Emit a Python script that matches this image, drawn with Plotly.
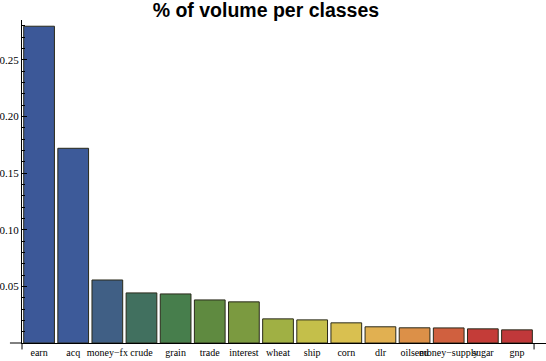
import plotly.graph_objects as go

categories = ["earn", "acq", "money\u2212fx", "crude", "grain", "trade", "interest", "wheat",
              "ship", "corn", "dlr", "oilseed", "money\u2212supply", "sugar", "gnp"]
values = [0.2795, 0.1718, 0.0556, 0.0442, 0.0433, 0.0380, 0.0363, 0.0213,
          0.0204, 0.0178, 0.0143, 0.0134, 0.0133, 0.0125, 0.0116]
colors = ["#3c5898", "#3d5a99", "#405f85", "#41705f", "#477e4c", "#5f8a40", "#7b9a40", "#a0b044",
          "#c4bf4a", "#d9c050", "#e1b051", "#dc9048", "#d0603f", "#c43c38", "#c0383a"]
ytick_vals = [0.05, 0.10, 0.15, 0.20, 0.25]

fig = go.Figure(go.Bar(
    x=list(range(len(categories))), y=values,
    marker=dict(color=colors, line=dict(color="#2a2a1a", width=1)),
    hoverinfo="skip",
))

serif = "Liberation Serif, Times New Roman, serif"
fig.update_layout(
    width=546, height=361,
    margin=dict(l=22, r=0, t=20, b=17.5, autoexpand=False),
    paper_bgcolor="white", plot_bgcolor="white",
    bargap=0.1, showlegend=False,
    title=dict(text="<b>% of volume per classes</b>", x=0.487, xanchor="center",
               y=0.973, yanchor="middle",
               font=dict(family="Liberation Sans, Arial, sans-serif", size=19.5, color="black")),
    xaxis=dict(range=[-0.5, 14.85], tickmode="array", tickvals=list(range(len(categories))),
               ticktext=categories, tickangle=0, ticks="", showgrid=False, zeroline=False,
               showline=True, linecolor="black", linewidth=1, automargin=False,
               tickfont=dict(family=serif, size=10, color="black")),
    yaxis=dict(range=[0, 0.285], tickvals=ytick_vals, tickformat=".2f",
               ticks="inside", ticklen=5, tickcolor="black", tickwidth=1,
               minor=dict(dtick=0.01, ticks="inside", ticklen=3, tickcolor="black", tickwidth=1),
               showgrid=False, zeroline=False, showline=True, linecolor="black", linewidth=1,
               automargin=False,
               tickfont=dict(family=serif, size=11, color="black")),
    shapes=[
        dict(type="line", xref="paper", yref="paper", x0=-0.023, x1=0, y0=0, y1=0,
             line=dict(color="black", width=1)),
        dict(type="line", xref="paper", yref="paper", x0=0, x1=0, y0=0, y1=-0.02,
             line=dict(color="black", width=1)),
        dict(type="line", xref="x", yref="paper", x0=14.5, x1=14.5, y0=0, y1=-0.02,
             line=dict(color="black", width=1)),
    ],
)
fig.write_html("out.html", config={"displayModeBar": False},
               post_script="document.body.style.margin='0';")
